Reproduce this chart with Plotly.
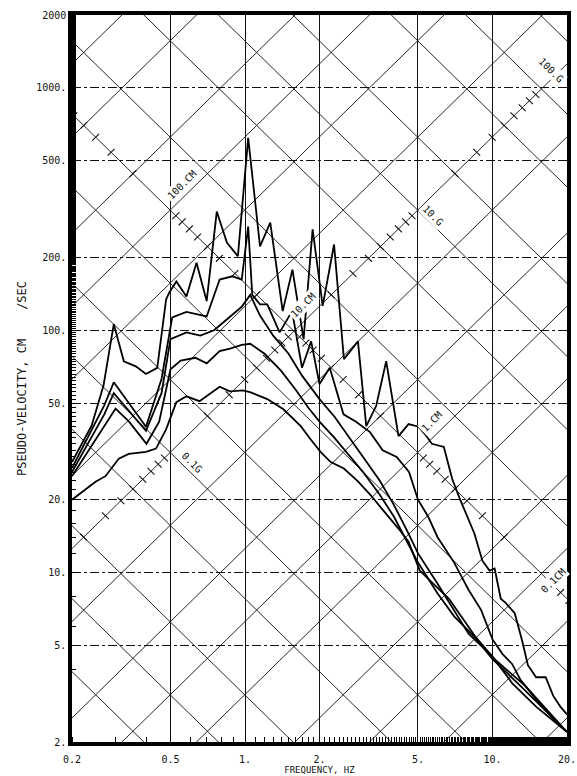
import numpy as np
import plotly.graph_objects as go

# ---------------- data ----------------
freq_a = [0.2, 0.24, 0.268, 0.295, 0.324, 0.362, 0.398, 0.442, 0.48, 0.494, 0.528, 0.58, 0.637, 0.70, 0.769,
          0.845, 0.936, 1.03, 1.15, 1.265, 1.42, 1.555, 1.725, 1.876, 2.06, 2.29, 2.51, 2.86, 3.09, 3.39, 3.72,
          4.17, 4.58, 5.03, 5.33, 5.69, 6.36, 6.87, 7.36, 8.45, 9.1, 9.73, 10.2, 10.8, 11.3, 12.3, 13.2, 13.9,
          15.0, 16.4, 17.6, 18.8, 20]
vel_a = [28.6, 40.4, 59, 106, 74.5, 71, 66, 70, 134, 143, 159, 138, 190, 132, 309,
         230, 202, 622, 222, 278, 120, 178, 92, 261, 126, 226, 76, 90, 40.2, 48.8, 74.6,
         36.6, 41, 40, 37.3, 34, 33, 24.4, 20.3, 14.5, 11.2, 10.2, 10.4, 7.8, 7.5, 6.8, 5.2, 4.15,
         3.7, 3.7, 3.1, 2.8, 2.6]

freq_b = [0.2, 0.27, 0.295, 0.33, 0.398, 0.46, 0.508, 0.58, 0.70, 0.79, 0.89, 0.97, 1.03, 1.07, 1.15, 1.23,
          1.38, 1.55, 1.7, 1.85, 2.0, 2.2, 2.5, 2.8, 3.2, 3.6, 4.1, 4.6, 5.0, 5.5, 6.0, 7.0, 8.0, 9.0, 10,
          11, 12, 13, 15, 17, 20]
vel_b = [27, 49, 61, 52, 40, 63, 113, 119, 114, 162, 167, 162, 268, 140, 128, 128,
         98, 120, 70, 90, 60, 70, 45, 42, 38, 32, 30, 26, 20, 17, 14, 11, 8.5, 7, 5.3,
         4.6, 4.2, 3.6, 3.0, 2.6, 2.2]

freq_c = [0.2, 0.27, 0.295, 0.33, 0.398, 0.46, 0.5, 0.58, 0.66, 0.75, 0.85, 0.97, 1.05, 1.15, 1.3, 1.5,
          1.7, 2.0, 2.3, 2.6, 3.0, 3.5, 4.0, 4.5, 5.0, 6, 7, 8, 10, 12, 15, 20]
vel_c = [26, 45, 55, 48, 38.5, 55, 92, 98, 95, 100, 111, 125, 140, 115, 95, 80,
         65, 52, 44, 37, 30, 24, 19, 15, 12, 9, 7, 5.6, 4.5, 3.5, 2.8, 2.2]

freq_d = [0.2, 0.27, 0.3, 0.34, 0.4, 0.45, 0.5, 0.55, 0.63, 0.7, 0.79, 0.87, 0.97, 1.05, 1.2, 1.4, 1.6,
          1.8, 2.0, 2.3, 2.6, 3.0, 3.5, 4.0, 4.5, 5.0, 6, 7, 8.5, 10, 13, 20]
vel_d = [25, 40, 47.5, 42, 34, 42, 69, 75, 77, 73, 82, 84, 87, 88, 80, 68, 57,
         48, 42, 36, 31, 26, 21, 17, 13.5, 11, 8.2, 6.6, 5.4, 4.4, 3.4, 2.2]

freq_e = [0.2, 0.249, 0.273, 0.309, 0.339, 0.398, 0.437, 0.48, 0.528, 0.58, 0.655, 0.72, 0.79, 0.869, 0.98,
          1.048, 1.23, 1.43, 1.68, 1.84, 2.02, 2.22, 2.51, 2.86, 3.23, 3.66, 4.17, 4.58, 5.08, 6.67, 8.5,
          10.3, 13.6, 20]
vel_e = [20, 23.7, 25, 29.5, 30.9, 31.5, 32.5, 39, 50.5, 53.4, 51, 54.6, 58.5, 56, 56.5,
         55.6, 52, 47.2, 40.2, 35.5, 31.5, 28.6, 26.9, 23.8, 20.8, 17.8, 15.2, 13.4, 10.2, 7.8, 5.46,
         4.35, 3.4, 2.2]

x_ticks = [0.2, 0.5, 1, 2, 5, 10, 20]
x_tick_text = ["0.2", "0.5", "1.", "2.", "5.", "10.", "20."]
y_ticks = [2, 5, 10, 20, 50, 100, 200, 500, 1000, 2000]
y_tick_text = ["2.", "5.", "10.", "20.", "50.", "100.", "200.", "500.", "1000.", "2000"]

disp_lines_cm = [0.02, 0.05, 0.1, 0.2, 0.5, 1, 2, 5, 10, 20, 50, 100, 200, 500, 1000]
acc_lines_g = [0.005, 0.01, 0.02, 0.05, 0.1, 0.2, 0.5, 1, 2, 5, 10, 20, 50, 100, 200]
# label text with the place it sits at (frequency, velocity)
disp_labels = [("100.CM", 0.558, 399), ("10.CM", 1.71, 127), ("1.CM", 5.69, 41.9), ("0.1CM", 17.6, 9.3)]
acc_labels = [("0.1G", 0.61, 28.5), ("10.G", 5.74, 298), ("100.G", 17.3, 1180)]

G = 981.0
TWO_PI = 2 * np.pi
F_MIN, F_MAX = 0.2, 20.0
V_MIN, V_MAX = 2.0, 2000.0
FONT = "DejaVu Sans Mono"

fig = go.Figure()

# ---------------- tripartite diagonal grid ----------------
gx, gy = [], []
for d in disp_lines_cm:
    for f in (F_MIN / 1.5, F_MAX * 1.5):
        gx.append(f); gy.append(TWO_PI * f * d)
    gx.append(None); gy.append(None)
for a in acc_lines_g:
    for f in (F_MIN / 1.5, F_MAX * 1.5):
        gx.append(f); gy.append(a * G / (TWO_PI * f))
    gx.append(None); gy.append(None)
fig.add_trace(go.Scatter(x=gx, y=gy, mode="lines", line=dict(color="#1a1a1a", width=0.95),
                         hoverinfo="skip", showlegend=False))

# ---------------- scale ticks on the diagonals ----------------
k = 10 ** 0.014
tx, ty = [], []
# acceleration scale along D = 10 cm line
for e in range(-2, 2):
    for m in range(2, 10):
        a = m * 10 ** e * G
        d = 10.0
        f = np.sqrt(a / d) / TWO_PI
        v = np.sqrt(a * d)
        tx += [f / k, f * k, None]; ty += [v * k, v / k, None]
# displacement scale along A = 1 g line
for e in range(-2, 3):
    for m in range(2, 10):
        d = m * 10 ** e
        a = G
        f = np.sqrt(a / d) / TWO_PI
        v = np.sqrt(a * d)
        tx += [f / k, f * k, None]; ty += [v / k, v * k, None]
fig.add_trace(go.Scatter(x=tx, y=ty, mode="lines", line=dict(color="#111", width=1.1),
                         hoverinfo="skip", showlegend=False))

# ---------------- spectra ----------------
for fx, vy in [(freq_a, vel_a), (freq_b, vel_b), (freq_c, vel_c), (freq_d, vel_d), (freq_e, vel_e)]:
    fig.add_trace(go.Scatter(x=fx, y=vy, mode="lines", line=dict(color="#000", width=1.8),
                             hoverinfo="skip", showlegend=False))

# ---------------- diagonal labels ----------------
ann = []
for t, f, v in disp_labels:
    ann.append(dict(x=np.log10(f), y=np.log10(v), text=t, showarrow=False, textangle=-45,
                    font=dict(family=FONT, size=10, color="#111"), bgcolor="white"))
for t, f, v in acc_labels:
    ann.append(dict(x=np.log10(f), y=np.log10(v), text=t, showarrow=False, textangle=45,
                    font=dict(family=FONT, size=10, color="#111"), bgcolor="white"))

fig.update_layout(
    width=577, height=776,
    margin=dict(l=72, r=10, t=15, b=34),
    paper_bgcolor="white", plot_bgcolor="white",
    annotations=ann,
    xaxis=dict(type="log", range=[np.log10(F_MIN), np.log10(F_MAX)], automargin=False,
               tickvals=x_ticks, ticktext=x_tick_text, ticks="", ticklabelstandoff=5,
               showgrid=True, gridcolor="#111", gridwidth=1.4,
               showline=True, linecolor="black", linewidth=3.5, mirror=True,
               tickfont=dict(family=FONT, size=10, color="#111"),
               title=dict(text="FREQUENCY, HZ", standoff=0,
                          font=dict(family=FONT, size=9, color="#111")),
               zeroline=False,
               minor=dict(ticks="inside", ticklen=5, tickcolor="black", tickwidth=1,
                          showgrid=False)),
    yaxis=dict(type="log", range=[np.log10(V_MIN), np.log10(V_MAX)], automargin=False,
               tickvals=y_ticks, ticktext=y_tick_text, ticks="",
               showgrid=True, gridcolor="#111", gridwidth=1.1, griddash="dashdot",
               showline=True, linecolor="black", linewidth=3.5, mirror=True,
               tickfont=dict(family=FONT, size=10, color="#111"),
               title=dict(text="PSEUDO-VELOCITY, CM    /SEC", standoff=8,
                          font=dict(family=FONT, size=12, color="#111")),
               zeroline=False,
               minor=dict(ticks="inside", ticklen=4, tickcolor="black", tickwidth=1,
                          showgrid=False)),
)

fig.write_html("out.html")
